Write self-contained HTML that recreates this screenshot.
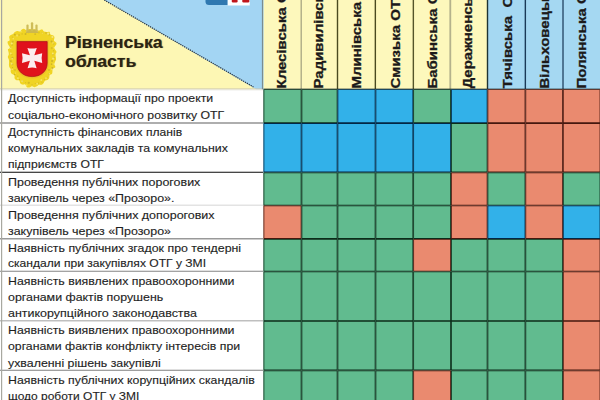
<!DOCTYPE html>
<html><head><meta charset="utf-8">
<style>
html,body{margin:0;padding:0;}
body{width:600px;height:400px;overflow:hidden;position:relative;background:#fff;font-family:"Liberation Sans",sans-serif;}
.abs{position:absolute;left:0;top:0;}
.ch{position:absolute;top:0;height:89px;overflow:hidden;}
.ch span{position:absolute;left:0;top:0;white-space:nowrap;font-weight:bold;color:#1c1a1a;transform-origin:0 0;line-height:1;-webkit-text-stroke:0.3px #1c1a1a;}
.lbl{position:absolute;left:8px;white-space:nowrap;font-size:11px;color:#1e1e1e;line-height:1.117;-webkit-text-stroke:0.12px #222;}
</style></head><body>

<svg class="abs" width="600" height="400" viewBox="0 0 600 400">
<rect x="0" y="0" width="264" height="89.5" fill="#fdf7b4"/>
<polygon points="104.3,0 264,0 264,89.5 256.5,89.5" fill="#a3d5f3"/>
<line x1="104.3" y1="0" x2="253.5" y2="87" stroke="#2a3540" stroke-width="1.2" stroke-dasharray="1.3,0.9"/>
<rect x="0" y="88.5" width="263" height="1" fill="#c8c4b0"/>
<rect x="0" y="89.5" width="263" height="1" fill="#eeeeea"/>
<path d="M205.5,0 H227.7 V5 H209 Q205.5,5 205.5,1.5 Z" fill="#2f78b0"/>
<rect x="227.7" y="0" width="22" height="5.5" fill="#fff"/>
<rect x="231.8" y="-1" width="5.8" height="3.4" rx="1.2" fill="#c0151b"/>
<rect x="242.3" y="-1" width="7" height="3.4" rx="1.2" fill="#c0151b"/>
<g><path d="M32.00,29.71 C32.84,29.74 33.71,29.16 34.52,29.27 C35.33,29.37 36.07,30.15 36.87,30.34 C37.67,30.53 38.44,30.57 39.33,30.41 C40.22,30.25 41.43,29.21 42.20,29.39 C42.98,29.57 43.26,31.07 43.96,31.49 C44.67,31.92 45.53,31.89 46.44,31.94 C47.35,31.99 48.75,31.36 49.42,31.78 C50.09,32.21 49.87,33.88 50.45,34.47 C51.02,35.06 52.18,34.86 52.85,35.31 C53.52,35.75 54.28,36.28 54.46,37.15 C54.64,38.01 53.76,39.68 53.94,40.51 C54.13,41.34 55.15,41.54 55.57,42.12 C56.00,42.71 56.72,43.11 56.50,44.03 C56.29,44.95 54.49,46.68 54.29,47.61 C54.08,48.55 54.88,48.95 55.25,49.65 C55.62,50.36 56.45,51.01 56.49,51.83 C56.53,52.65 55.61,53.71 55.49,54.58 C55.38,55.44 55.72,56.18 55.81,57.01 C55.90,57.84 56.16,58.71 56.02,59.54 C55.87,60.36 55.24,61.14 54.95,61.93 C54.67,62.73 54.24,63.41 54.29,64.30 C54.35,65.19 55.56,66.54 55.30,67.28 C55.03,68.03 53.19,68.09 52.72,68.78 C52.24,69.46 52.57,70.52 52.43,71.40 C52.30,72.27 52.36,73.37 51.89,74.00 C51.43,74.64 50.10,74.49 49.64,75.20 C49.18,75.91 49.52,77.44 49.14,78.24 C48.76,79.04 48.09,79.60 47.39,80.01 C46.69,80.43 45.59,80.18 44.94,80.71 C44.29,81.24 44.06,82.51 43.49,83.20 C42.92,83.89 42.28,84.59 41.52,84.85 C40.76,85.10 39.71,84.49 38.93,84.73 C38.16,84.96 37.60,85.85 36.85,86.26 C36.11,86.66 35.28,87.17 34.47,87.16 C33.66,87.15 32.83,86.15 32.00,86.19 C31.17,86.24 30.34,87.24 29.51,87.40 C28.67,87.57 27.71,87.68 26.99,87.19 C26.26,86.70 25.88,84.87 25.14,84.45 C24.40,84.02 23.35,84.79 22.56,84.62 C21.77,84.46 20.94,84.16 20.39,83.46 C19.83,82.75 19.89,80.94 19.24,80.40 C18.59,79.86 17.24,80.53 16.47,80.22 C15.70,79.90 14.96,79.38 14.62,78.53 C14.28,77.68 14.86,75.87 14.43,75.12 C14.01,74.38 12.67,74.58 12.06,74.04 C11.44,73.51 10.98,72.76 10.75,71.93 C10.52,71.10 10.94,69.90 10.69,69.09 C10.45,68.27 9.59,67.81 9.29,67.05 C9.00,66.29 8.96,65.37 8.92,64.52 C8.89,63.67 9.11,62.77 9.09,61.93 C9.07,61.09 9.00,60.31 8.79,59.48 C8.58,58.66 7.85,57.81 7.85,57.00 C7.85,56.18 8.68,55.44 8.79,54.62 C8.90,53.80 8.65,52.96 8.51,52.09 C8.37,51.21 7.73,50.10 7.95,49.37 C8.18,48.63 9.85,48.52 9.87,47.69 C9.89,46.85 8.44,45.37 8.07,44.35 C7.70,43.34 7.38,42.29 7.65,41.60 C7.91,40.90 9.41,41.00 9.66,40.20 C9.92,39.40 8.96,37.66 9.17,36.80 C9.37,35.94 10.22,35.50 10.88,35.02 C11.54,34.54 12.47,34.41 13.12,33.92 C13.77,33.43 14.13,32.57 14.77,32.07 C15.42,31.57 16.12,31.02 16.99,30.92 C17.87,30.82 19.23,31.72 20.03,31.48 C20.84,31.24 21.12,29.90 21.82,29.47 C22.53,29.03 23.37,28.68 24.27,28.88 C25.16,29.07 26.32,30.62 27.19,30.66 C28.06,30.69 28.67,29.25 29.47,29.09 C30.27,28.93 31.16,29.68 32.00,29.71Z" fill="#f0d424"/>
<circle cx="32.00" cy="31.18" r="0.92" fill="#b8a028" opacity="0.58"/>
<circle cx="35.19" cy="34.13" r="0.99" fill="#b8a028" opacity="0.45"/>
<circle cx="38.87" cy="32.51" r="0.90" fill="#b8a028" opacity="0.36"/>
<circle cx="42.24" cy="32.96" r="0.60" fill="#b8a028" opacity="0.39"/>
<circle cx="46.06" cy="33.04" r="0.96" fill="#b8a028" opacity="0.40"/>
<circle cx="49.06" cy="34.83" r="0.73" fill="#b8a028" opacity="0.65"/>
<circle cx="51.88" cy="36.81" r="0.77" fill="#b8a028" opacity="0.54"/>
<circle cx="51.55" cy="41.54" r="0.99" fill="#b8a028" opacity="0.65"/>
<circle cx="53.63" cy="43.82" r="0.75" fill="#b8a028" opacity="0.48"/>
<circle cx="51.74" cy="48.17" r="1.07" fill="#b8a028" opacity="0.40"/>
<circle cx="53.60" cy="50.75" r="0.64" fill="#b8a028" opacity="0.43"/>
<circle cx="52.82" cy="54.39" r="0.85" fill="#b8a028" opacity="0.44"/>
<circle cx="54.06" cy="57.69" r="0.75" fill="#b8a028" opacity="0.48"/>
<circle cx="52.08" cy="60.97" r="1.07" fill="#b8a028" opacity="0.59"/>
<circle cx="51.66" cy="64.24" r="0.87" fill="#b8a028" opacity="0.59"/>
<circle cx="52.34" cy="68.13" r="1.04" fill="#b8a028" opacity="0.62"/>
<circle cx="48.98" cy="69.98" r="0.98" fill="#b8a028" opacity="0.49"/>
<circle cx="48.66" cy="73.84" r="0.56" fill="#b8a028" opacity="0.57"/>
<circle cx="47.14" cy="77.27" r="0.54" fill="#b8a028" opacity="0.42"/>
<circle cx="44.48" cy="79.50" r="0.70" fill="#b8a028" opacity="0.37"/>
<circle cx="41.95" cy="82.20" r="0.59" fill="#b8a028" opacity="0.39"/>
<circle cx="38.57" cy="82.94" r="0.52" fill="#b8a028" opacity="0.66"/>
<circle cx="35.31" cy="83.49" r="0.59" fill="#b8a028" opacity="0.44"/>
<circle cx="32.00" cy="84.86" r="0.72" fill="#b8a028" opacity="0.39"/>
<circle cx="28.78" cy="82.79" r="1.10" fill="#b8a028" opacity="0.51"/>
<circle cx="25.52" cy="82.59" r="0.55" fill="#b8a028" opacity="0.39"/>
<circle cx="22.44" cy="81.25" r="0.66" fill="#b8a028" opacity="0.64"/>
<circle cx="19.52" cy="79.50" r="0.51" fill="#b8a028" opacity="0.68"/>
<circle cx="17.73" cy="76.17" r="0.59" fill="#b8a028" opacity="0.54"/>
<circle cx="14.53" cy="74.61" r="0.82" fill="#b8a028" opacity="0.69"/>
<circle cx="15.00" cy="70.00" r="0.92" fill="#b8a028" opacity="0.44"/>
<circle cx="12.50" cy="67.71" r="0.60" fill="#b8a028" opacity="0.62"/>
<circle cx="12.38" cy="64.22" r="0.97" fill="#b8a028" opacity="0.47"/>
<circle cx="10.90" cy="61.12" r="0.99" fill="#b8a028" opacity="0.69"/>
<circle cx="12.49" cy="57.72" r="0.98" fill="#b8a028" opacity="0.64"/>
<circle cx="11.93" cy="54.52" r="0.64" fill="#b8a028" opacity="0.53"/>
<circle cx="10.91" cy="50.92" r="0.52" fill="#b8a028" opacity="0.36"/>
<circle cx="10.64" cy="47.37" r="0.66" fill="#b8a028" opacity="0.59"/>
<circle cx="12.07" cy="44.93" r="0.77" fill="#b8a028" opacity="0.68"/>
<circle cx="12.69" cy="41.75" r="1.07" fill="#b8a028" opacity="0.48"/>
<circle cx="12.41" cy="37.12" r="0.64" fill="#b8a028" opacity="0.42"/>
<circle cx="14.87" cy="34.72" r="0.87" fill="#b8a028" opacity="0.67"/>
<circle cx="19.09" cy="35.08" r="0.79" fill="#b8a028" opacity="0.58"/>
<circle cx="22.14" cy="33.89" r="0.55" fill="#b8a028" opacity="0.58"/>
<circle cx="25.54" cy="34.03" r="0.97" fill="#b8a028" opacity="0.61"/>
<circle cx="28.61" cy="32.60" r="0.61" fill="#b8a028" opacity="0.63"/>
<circle cx="32.00" cy="31.50" r="1.08" fill="#fbee90" opacity="0.79"/>
<circle cx="37.36" cy="31.93" r="0.84" fill="#fbee90" opacity="0.78"/>
<circle cx="42.35" cy="33.26" r="0.70" fill="#fbee90" opacity="0.45"/>
<circle cx="48.19" cy="33.64" r="1.14" fill="#fbee90" opacity="0.72"/>
<circle cx="52.38" cy="36.97" r="1.10" fill="#fbee90" opacity="0.79"/>
<circle cx="52.99" cy="43.03" r="0.81" fill="#fbee90" opacity="0.62"/>
<circle cx="54.17" cy="47.67" r="0.61" fill="#fbee90" opacity="0.79"/>
<circle cx="52.80" cy="53.50" r="0.92" fill="#fbee90" opacity="0.77"/>
<circle cx="53.18" cy="58.60" r="1.12" fill="#fbee90" opacity="0.73"/>
<circle cx="53.14" cy="63.97" r="0.75" fill="#fbee90" opacity="0.52"/>
<circle cx="51.85" cy="69.19" r="0.95" fill="#fbee90" opacity="0.50"/>
<circle cx="49.27" cy="73.79" r="0.68" fill="#fbee90" opacity="0.76"/>
<circle cx="46.02" cy="78.07" r="0.87" fill="#fbee90" opacity="0.63"/>
<circle cx="41.27" cy="80.01" r="0.85" fill="#fbee90" opacity="0.77"/>
<circle cx="37.17" cy="83.80" r="0.92" fill="#fbee90" opacity="0.61"/>
<circle cx="32.00" cy="86.34" r="0.86" fill="#fbee90" opacity="0.47"/>
<circle cx="26.54" cy="85.26" r="1.08" fill="#fbee90" opacity="0.47"/>
<circle cx="22.22" cy="81.20" r="1.04" fill="#fbee90" opacity="0.62"/>
<circle cx="17.93" cy="78.13" r="0.91" fill="#fbee90" opacity="0.62"/>
<circle cx="15.53" cy="73.05" r="0.66" fill="#fbee90" opacity="0.62"/>
<circle cx="12.17" cy="69.18" r="0.77" fill="#fbee90" opacity="0.71"/>
<circle cx="11.71" cy="63.73" r="0.94" fill="#fbee90" opacity="0.70"/>
<circle cx="12.25" cy="58.56" r="0.87" fill="#fbee90" opacity="0.65"/>
<circle cx="10.78" cy="53.41" r="0.91" fill="#fbee90" opacity="0.68"/>
<circle cx="10.71" cy="48.08" r="0.92" fill="#fbee90" opacity="0.59"/>
<circle cx="11.71" cy="43.52" r="1.02" fill="#fbee90" opacity="0.75"/>
<circle cx="13.28" cy="38.69" r="0.76" fill="#fbee90" opacity="0.62"/>
<circle cx="17.13" cy="35.62" r="1.10" fill="#fbee90" opacity="0.45"/>
<circle cx="20.95" cy="31.59" r="0.87" fill="#fbee90" opacity="0.43"/>
<circle cx="26.55" cy="31.48" r="0.64" fill="#fbee90" opacity="0.67"/>
<path d="M25.8,33 L38.2,33 L37.2,29.5 L26.8,29.5 Z" fill="#cdb84c"/>
<rect x="26.4" y="24.5" width="2.2" height="7" rx="1" fill="#cfbd58"/>
<rect x="30.9" y="22.3" width="2.3" height="9" rx="1" fill="#cfbd58"/>
<rect x="35.4" y="24.5" width="2.2" height="7" rx="1" fill="#cfbd58"/>
<path d="M15.4,40 H48.8 V63 C48.8,72.5 41.5,78.4 32.1,78.4 C22.7,78.4 15.4,72.5 15.4,63 Z" fill="#eec028"/>
<path d="M17,41.6 H47.2 V63 C47.2,71.5 40.5,76.6 32.1,76.6 C23.7,76.6 17,71.5 17,63 Z" fill="#e0121c" stroke="#a81018" stroke-width="0.7"/>
<path d="M27.4,47.9 Q32.1,49.2 36.8,47.9 L34.3,55.3 L42.2,53.2 Q41,58.1 42.2,63 L34.3,60.8 L36.6,68.2 Q32.1,67 27.6,68.2 L29.9,60.8 L22,63 Q23.2,58.1 22,53.2 L29.9,55.3 Z" fill="#fcecee"/></g>

<rect x="263.5" y="0" width="38.0" height="89.25" fill="#fdf8bc"/>
<rect x="301.5" y="0" width="36.0" height="89.25" fill="#fdf8bc"/>
<rect x="337.5" y="0" width="38.0" height="89.25" fill="#fdf8bc"/>
<rect x="375.5" y="0" width="37.75" height="89.25" fill="#fdf8bc"/>
<rect x="413.25" y="0" width="37.75" height="89.25" fill="#fdf8bc"/>
<rect x="451.0" y="0" width="36.5" height="89.25" fill="#fdf8bc"/>
<rect x="487.5" y="0" width="37.89999999999998" height="89.25" fill="#a5d8f2"/>
<rect x="525.4" y="0" width="37.5" height="89.25" fill="#a5d8f2"/>
<rect x="562.9" y="0" width="37.5" height="89.25" fill="#a5d8f2"/>
<rect x="263.5" y="89.25" width="38.0" height="33.849999999999994" fill="#61bb8f"/>
<rect x="301.5" y="89.25" width="36.0" height="33.849999999999994" fill="#61bb8f"/>
<rect x="337.5" y="89.25" width="38.0" height="33.849999999999994" fill="#32b1e9"/>
<rect x="375.5" y="89.25" width="37.75" height="33.849999999999994" fill="#32b1e9"/>
<rect x="413.25" y="89.25" width="37.75" height="33.849999999999994" fill="#61bb8f"/>
<rect x="451.0" y="89.25" width="36.5" height="33.849999999999994" fill="#32b1e9"/>
<rect x="487.5" y="89.25" width="37.89999999999998" height="33.849999999999994" fill="#ea8a6f"/>
<rect x="525.4" y="89.25" width="37.5" height="33.849999999999994" fill="#ea8a6f"/>
<rect x="562.9" y="89.25" width="37.5" height="33.849999999999994" fill="#ea8a6f"/>
<rect x="263.5" y="123.1" width="38.0" height="49.30000000000001" fill="#32b1e9"/>
<rect x="301.5" y="123.1" width="36.0" height="49.30000000000001" fill="#32b1e9"/>
<rect x="337.5" y="123.1" width="38.0" height="49.30000000000001" fill="#32b1e9"/>
<rect x="375.5" y="123.1" width="37.75" height="49.30000000000001" fill="#32b1e9"/>
<rect x="413.25" y="123.1" width="37.75" height="49.30000000000001" fill="#32b1e9"/>
<rect x="451.0" y="123.1" width="36.5" height="49.30000000000001" fill="#61bb8f"/>
<rect x="487.5" y="123.1" width="37.89999999999998" height="49.30000000000001" fill="#ea8a6f"/>
<rect x="525.4" y="123.1" width="37.5" height="49.30000000000001" fill="#ea8a6f"/>
<rect x="562.9" y="123.1" width="37.5" height="49.30000000000001" fill="#ea8a6f"/>
<rect x="263.5" y="172.4" width="38.0" height="33.099999999999994" fill="#61bb8f"/>
<rect x="301.5" y="172.4" width="36.0" height="33.099999999999994" fill="#61bb8f"/>
<rect x="337.5" y="172.4" width="38.0" height="33.099999999999994" fill="#61bb8f"/>
<rect x="375.5" y="172.4" width="37.75" height="33.099999999999994" fill="#61bb8f"/>
<rect x="413.25" y="172.4" width="37.75" height="33.099999999999994" fill="#61bb8f"/>
<rect x="451.0" y="172.4" width="36.5" height="33.099999999999994" fill="#ea8a6f"/>
<rect x="487.5" y="172.4" width="37.89999999999998" height="33.099999999999994" fill="#61bb8f"/>
<rect x="525.4" y="172.4" width="37.5" height="33.099999999999994" fill="#ea8a6f"/>
<rect x="562.9" y="172.4" width="37.5" height="33.099999999999994" fill="#61bb8f"/>
<rect x="263.5" y="205.5" width="38.0" height="33.400000000000006" fill="#ea8a6f"/>
<rect x="301.5" y="205.5" width="36.0" height="33.400000000000006" fill="#61bb8f"/>
<rect x="337.5" y="205.5" width="38.0" height="33.400000000000006" fill="#61bb8f"/>
<rect x="375.5" y="205.5" width="37.75" height="33.400000000000006" fill="#61bb8f"/>
<rect x="413.25" y="205.5" width="37.75" height="33.400000000000006" fill="#61bb8f"/>
<rect x="451.0" y="205.5" width="36.5" height="33.400000000000006" fill="#ea8a6f"/>
<rect x="487.5" y="205.5" width="37.89999999999998" height="33.400000000000006" fill="#32b1e9"/>
<rect x="525.4" y="205.5" width="37.5" height="33.400000000000006" fill="#ea8a6f"/>
<rect x="562.9" y="205.5" width="37.5" height="33.400000000000006" fill="#32b1e9"/>
<rect x="263.5" y="238.9" width="38.0" height="32.599999999999994" fill="#61bb8f"/>
<rect x="301.5" y="238.9" width="36.0" height="32.599999999999994" fill="#61bb8f"/>
<rect x="337.5" y="238.9" width="38.0" height="32.599999999999994" fill="#61bb8f"/>
<rect x="375.5" y="238.9" width="37.75" height="32.599999999999994" fill="#61bb8f"/>
<rect x="413.25" y="238.9" width="37.75" height="32.599999999999994" fill="#ea8a6f"/>
<rect x="451.0" y="238.9" width="36.5" height="32.599999999999994" fill="#61bb8f"/>
<rect x="487.5" y="238.9" width="37.89999999999998" height="32.599999999999994" fill="#61bb8f"/>
<rect x="525.4" y="238.9" width="37.5" height="32.599999999999994" fill="#61bb8f"/>
<rect x="562.9" y="238.9" width="37.5" height="32.599999999999994" fill="#ea8a6f"/>
<rect x="263.5" y="271.5" width="38.0" height="49.5" fill="#61bb8f"/>
<rect x="301.5" y="271.5" width="36.0" height="49.5" fill="#61bb8f"/>
<rect x="337.5" y="271.5" width="38.0" height="49.5" fill="#61bb8f"/>
<rect x="375.5" y="271.5" width="37.75" height="49.5" fill="#61bb8f"/>
<rect x="413.25" y="271.5" width="37.75" height="49.5" fill="#61bb8f"/>
<rect x="451.0" y="271.5" width="36.5" height="49.5" fill="#61bb8f"/>
<rect x="487.5" y="271.5" width="37.89999999999998" height="49.5" fill="#61bb8f"/>
<rect x="525.4" y="271.5" width="37.5" height="49.5" fill="#61bb8f"/>
<rect x="562.9" y="271.5" width="37.5" height="49.5" fill="#ea8a6f"/>
<rect x="263.5" y="321.0" width="38.0" height="49.39999999999998" fill="#61bb8f"/>
<rect x="301.5" y="321.0" width="36.0" height="49.39999999999998" fill="#61bb8f"/>
<rect x="337.5" y="321.0" width="38.0" height="49.39999999999998" fill="#61bb8f"/>
<rect x="375.5" y="321.0" width="37.75" height="49.39999999999998" fill="#61bb8f"/>
<rect x="413.25" y="321.0" width="37.75" height="49.39999999999998" fill="#61bb8f"/>
<rect x="451.0" y="321.0" width="36.5" height="49.39999999999998" fill="#61bb8f"/>
<rect x="487.5" y="321.0" width="37.89999999999998" height="49.39999999999998" fill="#61bb8f"/>
<rect x="525.4" y="321.0" width="37.5" height="49.39999999999998" fill="#61bb8f"/>
<rect x="562.9" y="321.0" width="37.5" height="49.39999999999998" fill="#ea8a6f"/>
<rect x="263.5" y="370.4" width="38.0" height="49.60000000000002" fill="#61bb8f"/>
<rect x="301.5" y="370.4" width="36.0" height="49.60000000000002" fill="#61bb8f"/>
<rect x="337.5" y="370.4" width="38.0" height="49.60000000000002" fill="#61bb8f"/>
<rect x="375.5" y="370.4" width="37.75" height="49.60000000000002" fill="#61bb8f"/>
<rect x="413.25" y="370.4" width="37.75" height="49.60000000000002" fill="#ea8a6f"/>
<rect x="451.0" y="370.4" width="36.5" height="49.60000000000002" fill="#61bb8f"/>
<rect x="487.5" y="370.4" width="37.89999999999998" height="49.60000000000002" fill="#61bb8f"/>
<rect x="525.4" y="370.4" width="37.5" height="49.60000000000002" fill="#61bb8f"/>
<rect x="562.9" y="370.4" width="37.5" height="49.60000000000002" fill="#ea8a6f"/>
<rect x="261.9" y="0" width="1.2" height="89.25" fill="#7a8c90"/>
<rect x="300.55" y="0" width="1.3" height="89.25" fill="#a8a680"/>
<rect x="336.8" y="0" width="1.4" height="89.25" fill="#4a4a20"/>
<rect x="374.65000000000003" y="0" width="1.4" height="89.25" fill="#4a4a20"/>
<rect x="412.65000000000003" y="0" width="1.4" height="89.25" fill="#55552a"/>
<rect x="449.40000000000003" y="0" width="1.8" height="89.25" fill="#b4b28c"/>
<rect x="486.8" y="0" width="1.4" height="89.25" fill="#1e3434"/>
<rect x="524.65" y="0" width="1.4" height="89.25" fill="#1a3a58"/>
<rect x="562.3" y="0" width="1.4" height="89.25" fill="#2a4e6c"/>
<path d="M263.5,89.25 H301.5 V123.1 H263.5 Z M264.3,90.05 V122.3 H300.7 V90.05 Z" fill="#0c2c1a" fill-rule="evenodd"/>
<path d="M301.5,89.25 H337.5 V123.1 H301.5 Z M302.3,90.05 V122.3 H336.7 V90.05 Z" fill="#0c2c1a" fill-rule="evenodd"/>
<path d="M337.5,89.25 H375.5 V123.1 H337.5 Z M338.3,90.05 V122.3 H374.7 V90.05 Z" fill="#032744" fill-rule="evenodd"/>
<path d="M375.5,89.25 H413.25 V123.1 H375.5 Z M376.3,90.05 V122.3 H412.45 V90.05 Z" fill="#032744" fill-rule="evenodd"/>
<path d="M413.25,89.25 H451.0 V123.1 H413.25 Z M414.05,90.05 V122.3 H450.2 V90.05 Z" fill="#0c2c1a" fill-rule="evenodd"/>
<path d="M451.0,89.25 H487.5 V123.1 H451.0 Z M451.8,90.05 V122.3 H486.7 V90.05 Z" fill="#032744" fill-rule="evenodd"/>
<path d="M487.5,89.25 H525.4 V123.1 H487.5 Z M488.3,90.05 V122.3 H524.6 V90.05 Z" fill="#45180f" fill-rule="evenodd"/>
<path d="M525.4,89.25 H562.9 V123.1 H525.4 Z M526.1999999999999,90.05 V122.3 H562.1 V90.05 Z" fill="#45180f" fill-rule="evenodd"/>
<path d="M562.9,89.25 H600.4 V123.1 H562.9 Z M563.6999999999999,90.05 V122.3 H599.6 V90.05 Z" fill="#45180f" fill-rule="evenodd"/>
<path d="M263.5,123.1 H301.5 V172.4 H263.5 Z M264.3,123.89999999999999 V171.6 H300.7 V123.89999999999999 Z" fill="#032744" fill-rule="evenodd"/>
<path d="M301.5,123.1 H337.5 V172.4 H301.5 Z M302.3,123.89999999999999 V171.6 H336.7 V123.89999999999999 Z" fill="#032744" fill-rule="evenodd"/>
<path d="M337.5,123.1 H375.5 V172.4 H337.5 Z M338.3,123.89999999999999 V171.6 H374.7 V123.89999999999999 Z" fill="#032744" fill-rule="evenodd"/>
<path d="M375.5,123.1 H413.25 V172.4 H375.5 Z M376.3,123.89999999999999 V171.6 H412.45 V123.89999999999999 Z" fill="#032744" fill-rule="evenodd"/>
<path d="M413.25,123.1 H451.0 V172.4 H413.25 Z M414.05,123.89999999999999 V171.6 H450.2 V123.89999999999999 Z" fill="#032744" fill-rule="evenodd"/>
<path d="M451.0,123.1 H487.5 V172.4 H451.0 Z M451.8,123.89999999999999 V171.6 H486.7 V123.89999999999999 Z" fill="#0c2c1a" fill-rule="evenodd"/>
<path d="M487.5,123.1 H525.4 V172.4 H487.5 Z M488.3,123.89999999999999 V171.6 H524.6 V123.89999999999999 Z" fill="#45180f" fill-rule="evenodd"/>
<path d="M525.4,123.1 H562.9 V172.4 H525.4 Z M526.1999999999999,123.89999999999999 V171.6 H562.1 V123.89999999999999 Z" fill="#45180f" fill-rule="evenodd"/>
<path d="M562.9,123.1 H600.4 V172.4 H562.9 Z M563.6999999999999,123.89999999999999 V171.6 H599.6 V123.89999999999999 Z" fill="#45180f" fill-rule="evenodd"/>
<path d="M263.5,172.4 H301.5 V205.5 H263.5 Z M264.3,173.20000000000002 V204.7 H300.7 V173.20000000000002 Z" fill="#0c2c1a" fill-rule="evenodd"/>
<path d="M301.5,172.4 H337.5 V205.5 H301.5 Z M302.3,173.20000000000002 V204.7 H336.7 V173.20000000000002 Z" fill="#0c2c1a" fill-rule="evenodd"/>
<path d="M337.5,172.4 H375.5 V205.5 H337.5 Z M338.3,173.20000000000002 V204.7 H374.7 V173.20000000000002 Z" fill="#0c2c1a" fill-rule="evenodd"/>
<path d="M375.5,172.4 H413.25 V205.5 H375.5 Z M376.3,173.20000000000002 V204.7 H412.45 V173.20000000000002 Z" fill="#0c2c1a" fill-rule="evenodd"/>
<path d="M413.25,172.4 H451.0 V205.5 H413.25 Z M414.05,173.20000000000002 V204.7 H450.2 V173.20000000000002 Z" fill="#0c2c1a" fill-rule="evenodd"/>
<path d="M451.0,172.4 H487.5 V205.5 H451.0 Z M451.8,173.20000000000002 V204.7 H486.7 V173.20000000000002 Z" fill="#45180f" fill-rule="evenodd"/>
<path d="M487.5,172.4 H525.4 V205.5 H487.5 Z M488.3,173.20000000000002 V204.7 H524.6 V173.20000000000002 Z" fill="#0c2c1a" fill-rule="evenodd"/>
<path d="M525.4,172.4 H562.9 V205.5 H525.4 Z M526.1999999999999,173.20000000000002 V204.7 H562.1 V173.20000000000002 Z" fill="#45180f" fill-rule="evenodd"/>
<path d="M562.9,172.4 H600.4 V205.5 H562.9 Z M563.6999999999999,173.20000000000002 V204.7 H599.6 V173.20000000000002 Z" fill="#0c2c1a" fill-rule="evenodd"/>
<path d="M263.5,205.5 H301.5 V238.9 H263.5 Z M264.3,206.3 V238.1 H300.7 V206.3 Z" fill="#45180f" fill-rule="evenodd"/>
<path d="M301.5,205.5 H337.5 V238.9 H301.5 Z M302.3,206.3 V238.1 H336.7 V206.3 Z" fill="#0c2c1a" fill-rule="evenodd"/>
<path d="M337.5,205.5 H375.5 V238.9 H337.5 Z M338.3,206.3 V238.1 H374.7 V206.3 Z" fill="#0c2c1a" fill-rule="evenodd"/>
<path d="M375.5,205.5 H413.25 V238.9 H375.5 Z M376.3,206.3 V238.1 H412.45 V206.3 Z" fill="#0c2c1a" fill-rule="evenodd"/>
<path d="M413.25,205.5 H451.0 V238.9 H413.25 Z M414.05,206.3 V238.1 H450.2 V206.3 Z" fill="#0c2c1a" fill-rule="evenodd"/>
<path d="M451.0,205.5 H487.5 V238.9 H451.0 Z M451.8,206.3 V238.1 H486.7 V206.3 Z" fill="#45180f" fill-rule="evenodd"/>
<path d="M487.5,205.5 H525.4 V238.9 H487.5 Z M488.3,206.3 V238.1 H524.6 V206.3 Z" fill="#032744" fill-rule="evenodd"/>
<path d="M525.4,205.5 H562.9 V238.9 H525.4 Z M526.1999999999999,206.3 V238.1 H562.1 V206.3 Z" fill="#45180f" fill-rule="evenodd"/>
<path d="M562.9,205.5 H600.4 V238.9 H562.9 Z M563.6999999999999,206.3 V238.1 H599.6 V206.3 Z" fill="#032744" fill-rule="evenodd"/>
<path d="M263.5,238.9 H301.5 V271.5 H263.5 Z M264.3,239.70000000000002 V270.7 H300.7 V239.70000000000002 Z" fill="#0c2c1a" fill-rule="evenodd"/>
<path d="M301.5,238.9 H337.5 V271.5 H301.5 Z M302.3,239.70000000000002 V270.7 H336.7 V239.70000000000002 Z" fill="#0c2c1a" fill-rule="evenodd"/>
<path d="M337.5,238.9 H375.5 V271.5 H337.5 Z M338.3,239.70000000000002 V270.7 H374.7 V239.70000000000002 Z" fill="#0c2c1a" fill-rule="evenodd"/>
<path d="M375.5,238.9 H413.25 V271.5 H375.5 Z M376.3,239.70000000000002 V270.7 H412.45 V239.70000000000002 Z" fill="#0c2c1a" fill-rule="evenodd"/>
<path d="M413.25,238.9 H451.0 V271.5 H413.25 Z M414.05,239.70000000000002 V270.7 H450.2 V239.70000000000002 Z" fill="#45180f" fill-rule="evenodd"/>
<path d="M451.0,238.9 H487.5 V271.5 H451.0 Z M451.8,239.70000000000002 V270.7 H486.7 V239.70000000000002 Z" fill="#0c2c1a" fill-rule="evenodd"/>
<path d="M487.5,238.9 H525.4 V271.5 H487.5 Z M488.3,239.70000000000002 V270.7 H524.6 V239.70000000000002 Z" fill="#0c2c1a" fill-rule="evenodd"/>
<path d="M525.4,238.9 H562.9 V271.5 H525.4 Z M526.1999999999999,239.70000000000002 V270.7 H562.1 V239.70000000000002 Z" fill="#0c2c1a" fill-rule="evenodd"/>
<path d="M562.9,238.9 H600.4 V271.5 H562.9 Z M563.6999999999999,239.70000000000002 V270.7 H599.6 V239.70000000000002 Z" fill="#45180f" fill-rule="evenodd"/>
<path d="M263.5,271.5 H301.5 V321.0 H263.5 Z M264.3,272.3 V320.2 H300.7 V272.3 Z" fill="#0c2c1a" fill-rule="evenodd"/>
<path d="M301.5,271.5 H337.5 V321.0 H301.5 Z M302.3,272.3 V320.2 H336.7 V272.3 Z" fill="#0c2c1a" fill-rule="evenodd"/>
<path d="M337.5,271.5 H375.5 V321.0 H337.5 Z M338.3,272.3 V320.2 H374.7 V272.3 Z" fill="#0c2c1a" fill-rule="evenodd"/>
<path d="M375.5,271.5 H413.25 V321.0 H375.5 Z M376.3,272.3 V320.2 H412.45 V272.3 Z" fill="#0c2c1a" fill-rule="evenodd"/>
<path d="M413.25,271.5 H451.0 V321.0 H413.25 Z M414.05,272.3 V320.2 H450.2 V272.3 Z" fill="#0c2c1a" fill-rule="evenodd"/>
<path d="M451.0,271.5 H487.5 V321.0 H451.0 Z M451.8,272.3 V320.2 H486.7 V272.3 Z" fill="#0c2c1a" fill-rule="evenodd"/>
<path d="M487.5,271.5 H525.4 V321.0 H487.5 Z M488.3,272.3 V320.2 H524.6 V272.3 Z" fill="#0c2c1a" fill-rule="evenodd"/>
<path d="M525.4,271.5 H562.9 V321.0 H525.4 Z M526.1999999999999,272.3 V320.2 H562.1 V272.3 Z" fill="#0c2c1a" fill-rule="evenodd"/>
<path d="M562.9,271.5 H600.4 V321.0 H562.9 Z M563.6999999999999,272.3 V320.2 H599.6 V272.3 Z" fill="#45180f" fill-rule="evenodd"/>
<path d="M263.5,321.0 H301.5 V370.4 H263.5 Z M264.3,321.8 V369.59999999999997 H300.7 V321.8 Z" fill="#0c2c1a" fill-rule="evenodd"/>
<path d="M301.5,321.0 H337.5 V370.4 H301.5 Z M302.3,321.8 V369.59999999999997 H336.7 V321.8 Z" fill="#0c2c1a" fill-rule="evenodd"/>
<path d="M337.5,321.0 H375.5 V370.4 H337.5 Z M338.3,321.8 V369.59999999999997 H374.7 V321.8 Z" fill="#0c2c1a" fill-rule="evenodd"/>
<path d="M375.5,321.0 H413.25 V370.4 H375.5 Z M376.3,321.8 V369.59999999999997 H412.45 V321.8 Z" fill="#0c2c1a" fill-rule="evenodd"/>
<path d="M413.25,321.0 H451.0 V370.4 H413.25 Z M414.05,321.8 V369.59999999999997 H450.2 V321.8 Z" fill="#0c2c1a" fill-rule="evenodd"/>
<path d="M451.0,321.0 H487.5 V370.4 H451.0 Z M451.8,321.8 V369.59999999999997 H486.7 V321.8 Z" fill="#0c2c1a" fill-rule="evenodd"/>
<path d="M487.5,321.0 H525.4 V370.4 H487.5 Z M488.3,321.8 V369.59999999999997 H524.6 V321.8 Z" fill="#0c2c1a" fill-rule="evenodd"/>
<path d="M525.4,321.0 H562.9 V370.4 H525.4 Z M526.1999999999999,321.8 V369.59999999999997 H562.1 V321.8 Z" fill="#0c2c1a" fill-rule="evenodd"/>
<path d="M562.9,321.0 H600.4 V370.4 H562.9 Z M563.6999999999999,321.8 V369.59999999999997 H599.6 V321.8 Z" fill="#45180f" fill-rule="evenodd"/>
<path d="M263.5,370.4 H301.5 V420 H263.5 Z M264.3,371.2 V419.2 H300.7 V371.2 Z" fill="#0c2c1a" fill-rule="evenodd"/>
<path d="M301.5,370.4 H337.5 V420 H301.5 Z M302.3,371.2 V419.2 H336.7 V371.2 Z" fill="#0c2c1a" fill-rule="evenodd"/>
<path d="M337.5,370.4 H375.5 V420 H337.5 Z M338.3,371.2 V419.2 H374.7 V371.2 Z" fill="#0c2c1a" fill-rule="evenodd"/>
<path d="M375.5,370.4 H413.25 V420 H375.5 Z M376.3,371.2 V419.2 H412.45 V371.2 Z" fill="#0c2c1a" fill-rule="evenodd"/>
<path d="M413.25,370.4 H451.0 V420 H413.25 Z M414.05,371.2 V419.2 H450.2 V371.2 Z" fill="#45180f" fill-rule="evenodd"/>
<path d="M451.0,370.4 H487.5 V420 H451.0 Z M451.8,371.2 V419.2 H486.7 V371.2 Z" fill="#0c2c1a" fill-rule="evenodd"/>
<path d="M487.5,370.4 H525.4 V420 H487.5 Z M488.3,371.2 V419.2 H524.6 V371.2 Z" fill="#0c2c1a" fill-rule="evenodd"/>
<path d="M525.4,370.4 H562.9 V420 H525.4 Z M526.1999999999999,371.2 V419.2 H562.1 V371.2 Z" fill="#0c2c1a" fill-rule="evenodd"/>
<path d="M562.9,370.4 H600.4 V420 H562.9 Z M563.6999999999999,371.2 V419.2 H599.6 V371.2 Z" fill="#45180f" fill-rule="evenodd"/>
<rect x="263.5" y="88.45" width="336.5" height="0.8" fill="#1a2a2a" fill-opacity="0.6"/>
<rect x="0" y="122.4" width="263" height="1.2" fill="#7a7a7a"/>
<rect x="0" y="171.70000000000002" width="263" height="1.2" fill="#333333"/>
<rect x="0" y="204.6" width="263" height="1.2" fill="#dddddd"/>
<rect x="0" y="238.20000000000002" width="263" height="1.2" fill="#808080"/>
<rect x="0" y="270.7" width="263" height="1.2" fill="#999999"/>
<rect x="0" y="320.2" width="263" height="1.2" fill="#b0b0b0"/>
<rect x="0" y="369.7" width="263" height="1.2" fill="#959595"/>
<rect x="1" y="0" width="1.2" height="400" fill="#a8a8a0"/>
</svg>
<div class="abs" style="left:65.4px;top:33.0px;font-weight:bold;font-size:16.5px;line-height:19px;color:#2a2414;text-shadow:0.4px 0.4px 0.8px rgba(40,30,0,0.55);transform:scaleX(1.065);transform-origin:0 0;">Рівненська<br>область</div>
<div class="ch" style="left:263.00px;width:38.00px"><span style="font-size:13.5px;letter-spacing:0.0px;transform:translate(12.34px,88.5px) rotate(-90deg) scaleX(1.11)">Клесівська ОТГ</span></div>
<div class="ch" style="left:301.00px;width:36.00px"><span style="font-size:13.5px;letter-spacing:0.0px;transform:translate(11.34px,88.5px) rotate(-90deg) scaleX(1.11)">Радивилівська ОТГ</span></div>
<div class="ch" style="left:337.00px;width:38.00px"><span style="font-size:13.5px;letter-spacing:0.0px;transform:translate(13.04px,88.5px) rotate(-90deg) scaleX(1.11)">Млинівська ОТГ</span></div>
<div class="ch" style="left:375.00px;width:37.75px"><span style="font-size:13.5px;letter-spacing:0.0px;transform:translate(14.14px,88.5px) rotate(-90deg) scaleX(1.11)">Смизька ОТГ</span></div>
<div class="ch" style="left:412.75px;width:37.75px"><span style="font-size:13.5px;letter-spacing:0.0px;transform:translate(12.99px,88.5px) rotate(-90deg) scaleX(1.11)">Бабинська ОТГ</span></div>
<div class="ch" style="left:450.50px;width:36.50px"><span style="font-size:13.5px;letter-spacing:0.0px;transform:translate(10.44px,88.5px) rotate(-90deg) scaleX(1.11)">Деражненська ОТГ</span></div>
<div class="ch" style="left:487.00px;width:37.90px"><span style="font-size:13.5px;letter-spacing:0.0px;transform:translate(13.84px,88.5px) rotate(-90deg) scaleX(1.11)">Тячівська&nbsp;&nbsp;СТГ</span></div>
<div class="ch" style="left:524.90px;width:37.50px"><span style="font-size:13.5px;letter-spacing:0.0px;transform:translate(12.94px,88.5px) rotate(-90deg) scaleX(1.11)">Вільховецька ОТГ</span></div>
<div class="ch" style="left:562.40px;width:37.50px"><span style="font-size:13.5px;letter-spacing:0.0px;transform:translate(13.44px,88.5px) rotate(-90deg) scaleX(1.11)">Полянська ОТГ</span></div>
<div class="lbl" style="top:93.35px;font-size:10.5px;transform:scaleX(1.1701);transform-origin:0 0">Доступність інформації про проекти</div>
<div class="lbl" style="top:109.70px;font-size:10.5px;transform:scaleX(1.1690);transform-origin:0 0">соціально-економічного розвитку ОТГ</div>
<div class="lbl" style="top:126.70px;font-size:10.5px;transform:scaleX(1.1500);transform-origin:0 0">Доступність фінансових планів</div>
<div class="lbl" style="top:143.00px;font-size:10.5px;transform:scaleX(1.1741);transform-origin:0 0">комунальних закладів та комунальних</div>
<div class="lbl" style="top:158.85px;font-size:10.5px;transform:scaleX(1.1560);transform-origin:0 0">підприємств ОТГ</div>
<div class="lbl" style="top:176.50px;font-size:10.5px;transform:scaleX(1.1860);transform-origin:0 0">Проведення публічних порогових</div>
<div class="lbl" style="top:192.60px;font-size:10.5px;transform:scaleX(1.1846);transform-origin:0 0">закупівель через «Прозоро».</div>
<div class="lbl" style="top:209.75px;font-size:10.5px;transform:scaleX(1.1863);transform-origin:0 0">Проведення публічних допорогових</div>
<div class="lbl" style="top:225.50px;font-size:10.5px;transform:scaleX(1.1845);transform-origin:0 0">закупівель через «Прозоро»</div>
<div class="lbl" style="top:242.50px;font-size:10.5px;transform:scaleX(1.1779);transform-origin:0 0">Наявність публічних згадок про тендерні</div>
<div class="lbl" style="top:258.40px;font-size:10.5px;transform:scaleX(1.1500);transform-origin:0 0">скандали при закупівлях ОТГ у ЗМІ</div>
<div class="lbl" style="top:276.10px;font-size:10.5px;transform:scaleX(1.1729);transform-origin:0 0">Наявність виявлених правоохоронними</div>
<div class="lbl" style="top:292.10px;font-size:10.5px;transform:scaleX(1.1790);transform-origin:0 0">органами фактів порушень</div>
<div class="lbl" style="top:308.20px;font-size:10.5px;transform:scaleX(1.1878);transform-origin:0 0">антикорупційного законодавства</div>
<div class="lbl" style="top:325.10px;font-size:10.5px;transform:scaleX(1.1729);transform-origin:0 0">Наявність виявлених правоохоронними</div>
<div class="lbl" style="top:341.40px;font-size:10.5px;transform:scaleX(1.1698);transform-origin:0 0">органами фактів конфлікту інтересів при</div>
<div class="lbl" style="top:357.70px;font-size:10.5px;transform:scaleX(1.1773);transform-origin:0 0">ухваленні рішень закупівлі</div>
<div class="lbl" style="top:374.80px;font-size:10.5px;transform:scaleX(1.1714);transform-origin:0 0">Наявність публічних корупційних скандалів</div>
<div class="lbl" style="top:391.00px;font-size:10.5px;transform:scaleX(1.1395);transform-origin:0 0">щодо роботи ОТГ у ЗМІ</div>
</body></html>
